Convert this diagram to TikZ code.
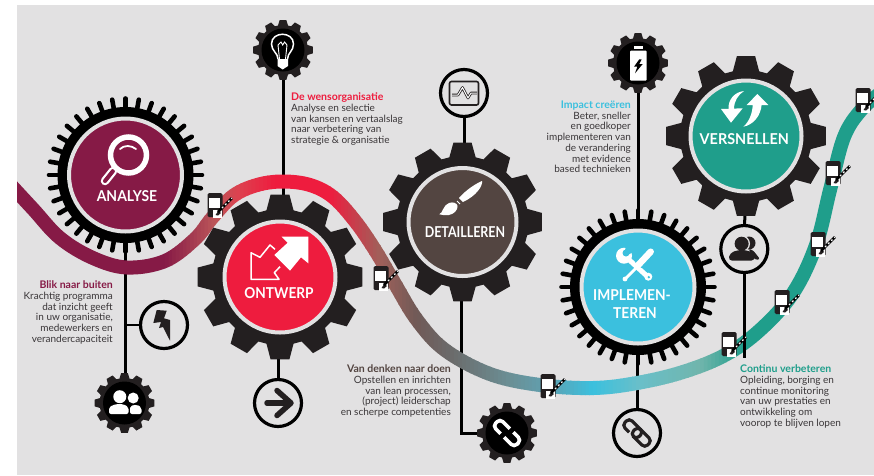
\documentclass[tikz,border=0pt]{standalone}
\usepackage{fontspec}
\setmainfont{Lato}
\definecolor{bgc}{HTML}{E2E1E2}
\definecolor{gearc}{HTML}{231F20}
\definecolor{maroonc}{HTML}{861A46}
\definecolor{redc}{HTML}{EE1C3E}
\definecolor{brownc}{HTML}{534541}
\definecolor{cyanc}{HTML}{3BC0DE}
\definecolor{tealc}{HTML}{1F9E8B}
\definecolor{txtc}{HTML}{3A3638}
\definecolor{stopa}{HTML}{BC5659}
\definecolor{stopb}{HTML}{DE404F}
\definecolor{stopc}{HTML}{A0605A}
\definecolor{stopd}{HTML}{705A57}
\definecolor{stope}{HTML}{6B6A6A}
\definecolor{stopf}{HTML}{6B8F95}
\definecolor{stopg}{HTML}{60A0B0}
\definecolor{stoph}{HTML}{6ABFC9}
\definecolor{stopi}{HTML}{70B5AC}
\tikzset{
 conn/.style={draw=black,line width=3pt},
 body/.style={inner sep=0pt,text=txtc,font=\fontsize{10}{10.75}\selectfont},
 big/.style={inner sep=0pt,text=white,font=\fontsize{15}{16}\selectfont\bfseries,transform shape},
 disc/.style={circle,inner sep=0pt,draw=bgc,line width=4pt},
 ringnode/.style={circle,inner sep=0pt,minimum size=47pt,draw=black,fill=bgc,line width=3.2pt}
}
\newcommand\headtxt[2]{{\fontsize{10.5}{10.75}\selectfont\bfseries\color{#1}#2}}
\newcommand\toothgear[4]{% x y R r
 \fill[gearc] ({#1+#4*cos(-11.5)},{#2+#4*sin(-11.5)})
 \foreach \a in {0,30,...,330}{ -- ({#1+#4*cos(\a-11.5)},{#2+#4*sin(\a-11.5)}) -- ({#1+#3*cos(\a-6.5)},{#2+#3*sin(\a-6.5)}) -- ({#1+#3*cos(\a+6.5)},{#2+#3*sin(\a+6.5)}) -- ({#1+#4*cos(\a+11.5)},{#2+#4*sin(\a+11.5)}) } -- cycle;}
\newcommand\finegear[2]{% x y
 \foreach \a in {0,10,...,350}{\draw[black,line width=4.6pt,line cap=round] ({#1+62*cos(\a)},{#2+62*sin(\a)}) -- ({#1+76.5*cos(\a)},{#2+76.5*sin(\a)});}
 \fill[black] (#1,#2) circle (68);}
\newcommand\tagicon[2]{%
 \begin{scope}[shift={(#1,#2)}]
 \fill[gearc,rounded corners=1.5pt] (-7.5,12) -- (-7.5,-12) -- (7.5,-12) -- (7.5,12) -- cycle;
 \fill[white] (-5.7,-6.7) rectangle (5,3.3);
 \fill[white] (-1.7,5) rectangle (6.7,12.5);
 \fill[gearc] (0.5,10) -- (3.5,5.5) -- (6,8) -- (3,10.5) -- cycle;
 \draw[black,line width=2.6pt] (3,7) -- (17,-7);
 \draw[white,line width=1.2pt,dash pattern=on 1.8pt off 2.6pt] (7,3) -- (17,-7);
 \end{scope}}
\newcommand\ribbonpath{plot[smooth,tension=0.6] coordinates {(8,182) (33,209) (60,238) (93,258) (127,267.5) (165,261) (195,239) (212,218) (233,196) (257,185) (283,181.5) (310,185) (333,197) (355,221) (375,250) (395,284) (417,320) (445,350) (490,374) (540,385) (593,388) (637,383) (683,372) (725,355) (760,330) (793,293) (816,245) (830,190) (844,137) (862,109) (882,92)}}
\newcommand\band[5]{%
 \foreach \i in {1,...,#5}{
  \pgfmathsetmacro\xl{#1+(#2-#1)*(\i-1)/#5}
  \pgfmathsetmacro\xr{#1+(#2-#1)*\i/#5+0.6}
  \pgfmathsetmacro\pc{100*(\i-0.5)/#5}
  \colorlet{slicec}{#4!\pc!#3}
  \begin{scope}\clip (\xl,0) rectangle (\xr,475);
  \draw[slicec,line width=14pt] \ribbonpath;
  \end{scope}}}
\begin{document}
\begin{tikzpicture}[x=1pt,y=-1pt]
\useasboundingbox (0,0) rectangle (874,475);
\fill[white] (0,0) rectangle (874,475);
\fill[bgc] (17,5) rectangle (874,475);
% anchor coordinates
\coordinate (anaC) at (125.5,175);
\coordinate (ontC) at (280,277);
\coordinate (detC) at (462.5,222);
\coordinate (impC) at (638,287);
\coordinate (verC) at (746,136);
\coordinate (bulbC) at (283,50);
\coordinate (pplLC) at (124.5,403);
\coordinate (chainC) at (507,433);
\coordinate (battC) at (638,63);
\coordinate (flashC) at (164,325);
\coordinate (arrC) at (278,403);
\coordinate (monC) at (464,93);
\coordinate (link2C) at (637,433);
\coordinate (pplRC) at (744.3,249);
\coordinate (lineEnd) at (744.3,358);
% connectors under ribbon
\draw[conn] (anaC) -- (anaC |- pplLC);
\draw[conn,line width=2pt] (anaC |- flashC) -- (flashC);
\draw[conn] (bulbC) -- (bulbC |- ontC);
\draw[conn] (arrC) -- (arrC |- ontC);
\draw[conn] (monC) -- (monC |- detC);
\draw[conn] (461.7,222) |- (chainC);
\draw[conn] (battC) -- (battC |- impC);
\draw[conn] (link2C) -- (link2C |- impC);
% ribbon
\band{17}{165}{maroonc}{maroonc}{1}
\band{165}{215}{maroonc}{stopa}{14}
\band{215}{240}{stopa}{stopb}{7}
\band{240}{275}{stopb}{redc}{9}
\band{275}{330}{redc}{redc}{1}
\band{330}{380}{redc}{stopc}{14}
\band{380}{417}{stopc}{stopd}{10}
\band{417}{450}{stopd}{stope}{8}
\band{450}{510}{stope}{stopf}{15}
\band{510}{547}{stopf}{stopg}{10}
\band{547}{593}{stopg}{cyanc}{12}
\band{593}{640}{cyanc}{stoph}{12}
\band{640}{700}{stoph}{stopi}{15}
\band{700}{745}{stopi}{tealc}{12}
\band{745}{874}{tealc}{tealc}{1}
\draw[conn] (pplRC) -- (lineEnd);
\draw[conn] (verC) -- (pplRC);
% gears
\finegear{125.5}{175}
\node[disc,fill=maroonc,minimum size=113pt] (ana) at (anaC) {};
\toothgear{280}{277}{83}{68}
\node[disc,fill=redc,minimum size=111pt] (ont) at (ontC) {};
\toothgear{462.5}{222}{80}{66}
\node[disc,fill=brownc,minimum size=108pt] (det) at (detC) {};
\finegear{638}{287}
\node[disc,fill=cyanc,minimum size=113pt] (imp) at (impC) {};
\toothgear{746}{136}{80.5}{66}
\node[disc,fill=tealc,minimum size=111pt] (ver) at (verC) {};
% small gears
\toothgear{283}{50}{30}{25}
\node[circle,fill=black,minimum size=43pt,inner sep=0pt] (bulb) at (bulbC) {};
\toothgear{124.5}{403}{30}{25}
\node[circle,fill=black,minimum size=43pt,inner sep=0pt] (pplL) at (pplLC) {};
\toothgear{507}{433}{30}{25}
\node[circle,fill=black,minimum size=43pt,inner sep=0pt] (chain) at (chainC) {};
\toothgear{638}{63}{30}{25}
\node[circle,fill=black,minimum size=43pt,inner sep=0pt] (batt) at (battC) {};
% rings
\node[ringnode] (flash) at (flashC) {};
\node[ringnode] (arr) at (arrC) {};
\node[ringnode] (mon) at (monC) {};
\node[ringnode] (link2) at (link2C) {};
\node[ringnode] (pplR) at (pplRC) {};
% gate icons
\tagicon{215}{205}\tagicon{381}{278}\tagicon{548}{386}\tagicon{729}{344}
\tagicon{782}{302}\tagicon{818}{244}\tagicon{833}{173}\tagicon{863}{100}
% magnifier
\draw[white,line width=8.5pt,line cap=round] (113,171) -- (105,181);
\draw[maroonc,line width=4pt,line cap=round] (113,171) -- (105,181);
\draw[white,line width=5.5pt,fill=maroonc] (128.5,155) circle (18);
\draw[white,line width=1.8pt,line cap=round] (120,149) .. controls (124,145) and (131,145) .. (136,149);
\node[big,xscale=0.93] (anaT) at (127,196) {ANALYSE};
% ontwerp icon
\fill[white] (281.7,236.7) -- (308.3,236.7) -- (308.3,263.3) -- (301,257.3) -- (290,270.7) -- (274.3,255) -- (287.7,242.7) -- cycle;
\draw[white,line width=1.5pt,line join=round] (275,249.3) -- (270,245) -- (260,257.3) -- (251,252.7) -- (251,279.3) -- (279,279.3) -- (274.3,272.7) -- (280,266.7);
\node[big,xscale=0.91] (ontT) at (279,293) {ONTWERP};
% brush
\fill[white] (459,198) .. controls (466,190) and (475,184) .. (482,181) .. controls (483,186) and (476,196) .. (463,202) -- cycle;
\fill[white] (439.3,214.3) .. controls (443,213) and (443,205) .. (449,203) .. controls (453,201.5) and (457,203) .. (457.5,206) .. controls (458,210) and (454,214) .. (449,215) .. controls (445,215.5) and (442,215) .. (439.3,214.3) -- cycle;
\draw[white,line width=1pt] (457,201) -- (460,204);
\node[big,xscale=0.83] (detT) at (465,232.5) {DETAILLEREN};
% tools
\begin{scope}
\draw[white,line width=5pt] (629.3,260) -- (647.7,276.7);
\fill[white] (648.3,276.7) circle (4);
\fill[cyanc] (648.8,277.2) circle (1.3);
\fill[white] (624,255.7) circle (8);
\fill[cyanc] (626,253) circle (3.5);
\fill[cyanc] (624.5,252) -- (627,243) -- (636,250) -- (628,255) -- cycle;
\draw[cyanc,line width=9pt] (650.7,251.7) -- (638.3,265);
\draw[white,line width=6.5pt,line cap=round] (650.7,251.7) -- (638.3,265);
\draw[white,line width=2.8pt] (637,267) -- (625,279);
\fill[white] (625,279) circle (2.4);
\end{scope}
\node[big,xscale=0.92] (impA) at (632,295) {IMPLEMEN-};
\node[big,xscale=0.92] (impB) at (635,312.7) {TEREN};
% refresh arrows
\fill[white] (721,109) -- (742.7,108.3) -- (731,122.7) -- cycle;
\fill[white] (744,91) .. controls (735,92) and (728,99) .. (728.5,109) -- (734,109) .. controls (734,101) and (738,95) .. (744,91) -- cycle;
\fill[white] (746.7,105) -- (768.3,105) -- (757.3,94) -- cycle;
\fill[white] (752.7,104) .. controls (752.7,113) and (749,122) .. (743.3,126.7) .. controls (753,125) and (761,116) .. (761.7,104) -- cycle;
\node[big,xscale=0.96] (verT) at (744.3,139.3) {VERSNELLEN};
% people left
\fill[white] (119.8,396.7) circle (6.5);
\fill[white] (133.2,398) circle (5.5);
\fill[white,rounded corners=2pt] (109,414) -- (109,407) -- (116,404) -- (123,404) -- (128.5,407) -- (128.5,414) -- cycle;
\fill[white,rounded corners=2pt] (130,414) -- (130,406) -- (137,404.5) -- (141.5,407.5) -- (141.5,414) -- cycle;
% bulb
\draw[white,line width=1.5pt] (278,59) .. controls (278,53) and (271.5,51) .. (271.5,44) .. controls (271.5,31) and (293.5,31) .. (293.5,44) .. controls (293.5,51) and (287.5,53) .. (287.5,59);
\draw[white,line width=0.9pt] (279.5,59) -- (278,45) -- (281,42) -- (282.7,45) -- (284.5,42) -- (287,45) -- (285.5,59);
\fill[white] (277.5,59) -- (288,59) -- (288,66) -- (282.7,69.5) -- (277.5,66) -- cycle;
% battery
\fill[white,rounded corners=1pt] (630,50.7) rectangle (646.7,80.7);
\fill[white] (634,45.7) rectangle (642.7,49);
\fill[black] (639.3,59.3) -- (634,66.7) -- (637.3,66.7) -- (635,73.3) -- (642.7,64) -- (639.3,64) -- (641.7,59.3) -- cycle;
% flash
\fill[gearc] (156.7,310) -- (166.7,310.7) -- (164,318.3) -- (170,320) -- (170,340.7) -- (163,327) -- (159,328) -- (161,322) -- (153.3,323) -- cycle;
% arrow
\draw[gearc,line width=5.5pt,line cap=round] (267,403) -- (288,403);
\draw[gearc,line width=5.5pt,line cap=round,line join=round] (277,390.5) -- (291,403) -- (277,415.5);
% monitor
\draw[gearc,line width=1.6pt,rounded corners=2pt] (449.5,81.5) rectangle (478.5,105);
\draw[gearc,line width=2.6pt,line join=round] (452,95) -- (458,95) -- (462.5,87.5) -- (468,98) -- (471,93) -- (477,93);
\draw[white,line width=1pt,line join=round] (452,95) -- (458,95) -- (462.5,87.5) -- (468,98) -- (471,93) -- (477,93);
% chain white
\begin{scope}[shift={(chainC)},rotate=-45]
\draw[white,line width=3.6pt,rounded corners=4pt] (-1,-5) -- (-15,-5) -- (-15,5) -- (-4,5);
\draw[white,line width=3.6pt,rounded corners=4pt] (1,5) -- (15,5) -- (15,-5) -- (4,-5);
\end{scope}
% chain dark
\begin{scope}[shift={(link2C)},rotate=-45]
\draw[gearc,line width=3.2pt,rounded corners=4pt] (-16,-5) rectangle (4,5);
\draw[bgc,line width=5.5pt] (-6,5) -- (-1,5);
\draw[gearc,line width=3.2pt,rounded corners=4pt] (-4,-5) rectangle (16,5);
\end{scope}
% people right
\fill[gearc] (749,243) circle (6.5);
\fill[bgc] (741.6,243.7) circle (8.4);
\fill[gearc,rounded corners=3pt] (752,249) -- (760.5,259.7) -- (754.5,259.7) -- (748,250) -- cycle;
\fill[gearc] (741.6,243.7) circle (7);
\fill[gearc,rounded corners=3.5pt] (728.3,260.5) -- (730,253) -- (738,250) -- (746,250) -- (753,253) -- (755,260.5) -- cycle;
% text
\node[body,anchor=north east,align=right] (blik) at (113,280.5) {\headtxt{maroonc}{Blik naar buiten}\\Krachtig programma\\dat inzicht geeft\\in uw organisatie,\\medewerkers en\\verandercapaciteit};
\node[body,anchor=north west,align=left] (wens) at (291,92.5) {\headtxt{redc}{De wensorganisatie}\\Analyse en selectie\\van kansen en vertaalslag\\naar verbetering van\\strategie \& organisatie};
\node[body,anchor=north east,align=right] (denk) at (451,364.5) {\headtxt{brownc}{Van denken naar doen}\\Opstellen en inrichten\\van lean processen,\\(project) leiderschap\\en scherpe competenties};
\node[body,anchor=north east,align=right] (impact) at (631,100.5) {\headtxt{cyanc}{Impact creëren}\\Beter, sneller\\en goedkoper\\implementeren van\\de verandering\\met evidence\\based technieken};
\node[body,anchor=north west,align=left] (cont) at (740,364.5) {\headtxt{tealc}{Continu verbeteren}\\Opleiding, borging en\\continue monitoring\\van uw prestaties en\\ontwikkeling om\\voorop te blijven lopen};
\end{tikzpicture}
\end{document}
